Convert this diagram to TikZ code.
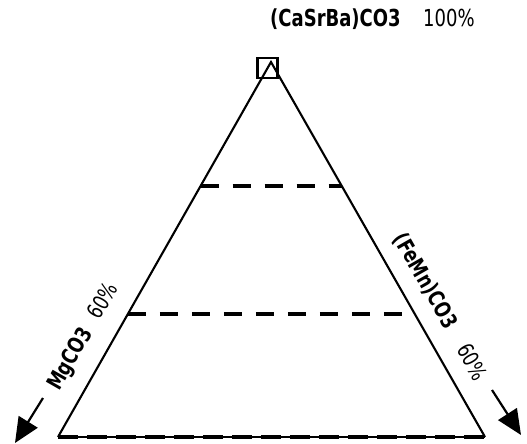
\documentclass[tikz,border=0pt]{standalone}
\usepackage{fontspec}
\setmainfont{DejaVu Sans}
\usetikzlibrary{arrows.meta,calc}
\newcommand{\tallt}[1]{\scalebox{1}[1.3]{#1}}
\begin{document}
\begin{tikzpicture}[x=1pt,y=-1pt,
  edge/.style={line width=2.1pt},
  level/.style={line width=3.8pt,dash pattern=on 18pt off 14pt},
  lab/.style={font=\fontsize{18}{18}\selectfont,inner sep=0pt},
  slab/.style={font=\fontsize{17}{17}\selectfont,inner sep=0pt},
  bigarrow/.style={line width=2.2pt,-{Triangle[length=25pt,width=22pt]}}]
\useasboundingbox (0,0) rectangle (527,444);
\coordinate (A) at (271,62);
\coordinate (L) at (58,437);
\coordinate (R) at (485,437);
\draw[edge] (L) -- (A) -- (R);
\node[draw,line width=2.2pt,minimum width=20pt,minimum height=20pt,inner sep=0pt] (box) at (267.5,68) {};
% levels
\coordinate (l1) at ($(A)!0.33!(L)$);
\coordinate (r1) at ($(A)!0.33!(R)$);
\coordinate (l2) at ($(A)!0.672!(L)$);
\coordinate (r2) at ($(A)!0.672!(R)$);
\draw[level] (l1) -- (r1);
\draw[level] (l2) -- (r2);
\draw[line width=1.8pt] (L) -- (R);
\draw[line width=3.6pt,dash pattern=on 20pt off 9pt] (L) -- (R);
% labels
\node[lab,anchor=base west] (top) at (270,27) {\tallt{\textbf{(CaSrBa)CO3}}};
\node[lab,anchor=base west] (pc) at (423,27) {\tallt{100\%}};
\node[slab,rotate=60.2] (left) at (84,337) {\tallt{\textbf{MgCO3}\hspace{14pt}60\%}};
\node[slab,rotate=-60.3] (right) at (440,307) {\tallt{\textbf{(FeMn)CO3}\hspace{22pt}60\%}};
% arrows
\coordinate (la0) at (43,398);
\coordinate (la1) at (15,443);
\coordinate (ra0) at (492,390);
\coordinate (ra1) at (521,435);
\draw[bigarrow] (la0) -- (la1);
\draw[bigarrow] (ra0) -- (ra1);
\end{tikzpicture}
\end{document}
